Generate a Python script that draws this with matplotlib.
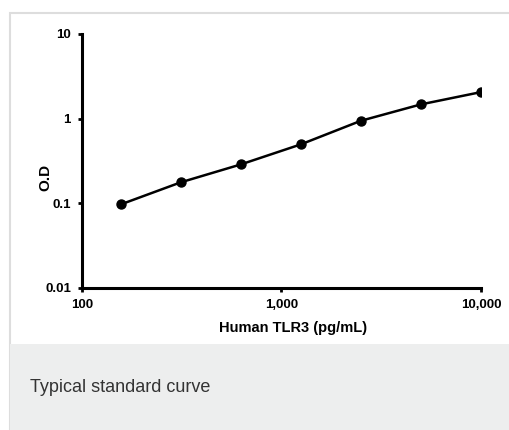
import matplotlib.pyplot as plt
from matplotlib.patches import Rectangle
from matplotlib.ticker import FixedLocator, FuncFormatter, NullLocator

# Standard curve values
concentration = [156.25, 312.5, 625, 1250, 2500, 5000, 10000]
od = [0.097, 0.177, 0.288, 0.497, 0.944, 1.475, 2.06]

x_ticks = [100, 1000, 10000]
y_ticks = [0.01, 0.1, 1, 10]
y_tick_labels = ['0.01', '0.1', '1', '10']

plt.rcParams['font.family'] = ['Liberation Sans', 'DejaVu Sans']

W, H = 510, 430
fig = plt.figure(figsize=(W / 100, H / 100), dpi=100)

# Frame around the chart and grey caption box below it
fig.patches.append(Rectangle((10 / W, 0), 1, 1 - 13 / H, transform=fig.transFigure,
                             facecolor='white', edgecolor='#dddddd', linewidth=1.5, zorder=-2))
fig.patches.append(Rectangle((10 / W, 0), 1, (H - 344) / H, transform=fig.transFigure,
                             facecolor='#edeeee', edgecolor='none', zorder=-1))
fig.text(30 / W, 1 - 387 / H, 'Typical standard curve', fontsize=13, color='#333333',
         va='center', ha='left')

ax = fig.add_axes([82 / W, 1 - 288 / H, (481 - 82) / W, (288 - 34) / H])
ax.set_zorder(5)
ax.patch.set_alpha(0)
ax.plot(concentration, od, color='black', linewidth=1.8, marker='o', markersize=6.5)

ax.set_xscale('log')
ax.set_yscale('log')
ax.set_xlim(100, 10000)
ax.set_ylim(0.01, 10)

ax.xaxis.set_major_locator(FixedLocator(x_ticks))
ax.xaxis.set_major_formatter(FuncFormatter(lambda v, p: f'{v:,.0f}'))
ax.xaxis.set_minor_locator(NullLocator())
ax.yaxis.set_major_locator(FixedLocator(y_ticks))
ax.set_yticklabels(y_tick_labels)
ax.yaxis.set_minor_locator(NullLocator())

for side in ['top', 'right']:
    ax.spines[side].set_visible(False)
for side in ['left', 'bottom']:
    ax.spines[side].set_linewidth(2.2)

ax.tick_params(direction='out', length=3, width=2, pad=5)
for label in ax.get_xticklabels() + ax.get_yticklabels():
    label.set_fontsize(9.5)
    label.set_fontweight('bold')

ax.set_xlabel('Human TLR3 (pg/mL)', fontsize=10.5, fontweight='bold')
ax.set_ylabel('O.D', fontsize=11, fontweight='bold')
ax.xaxis.set_label_coords((293 - 82) / 399, -(328 - 288) / 254)
ax.yaxis.set_label_coords(-(82 - 45) / 399, (288 - 177) / 254)
ax.xaxis.label.set_va('center')
ax.yaxis.label.set_va('center')

fig.savefig('out.png', dpi=100)
